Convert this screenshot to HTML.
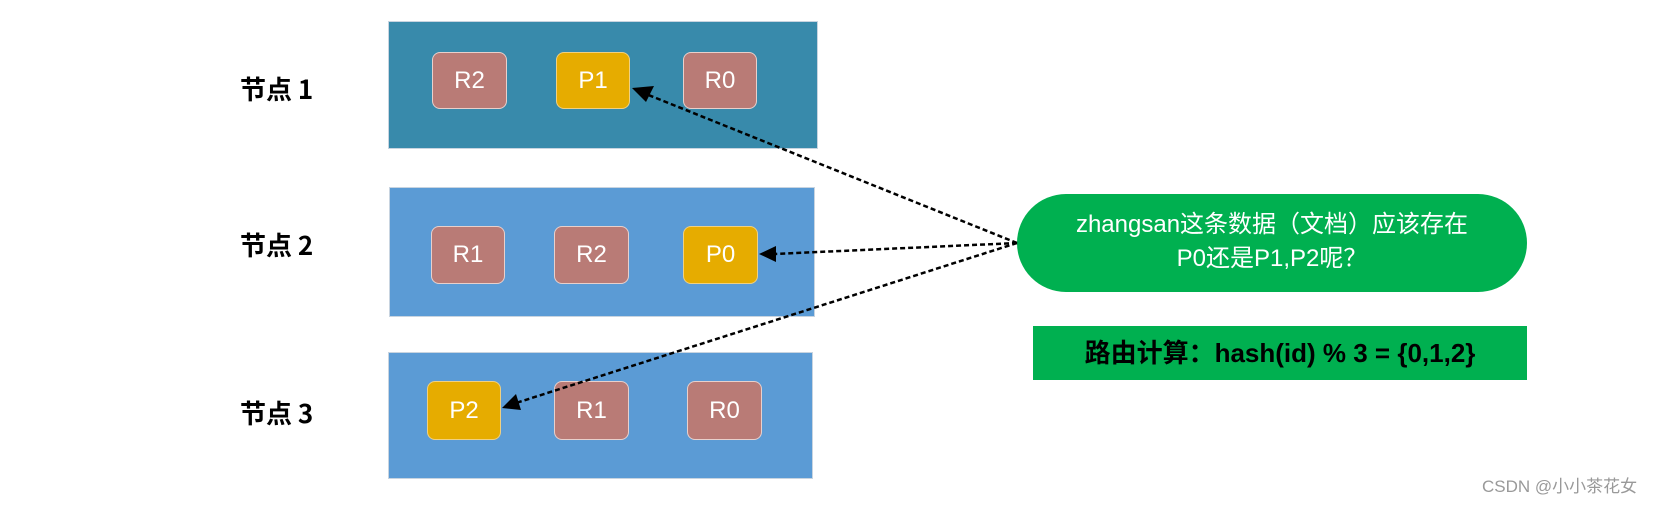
<!DOCTYPE html>
<html><head><meta charset="utf-8"><style>
body{margin:0;width:1669px;height:505px;background:#fff;position:relative;overflow:hidden;font-family:"Liberation Sans","Noto Sans CJK SC",sans-serif}
.box{position:absolute;border:1px solid #c8d4e0;box-sizing:border-box}
.n{position:absolute;border:1px solid #e8d0cc;border-radius:8px;box-sizing:border-box;color:#fff;font-size:24px;display:flex;align-items:center;justify-content:center;background:#b97b76}
.p{background:#e6ac00;border-color:#f0d080}
.lbl{position:absolute;font-weight:bold;font-size:26px;color:#000;font-family:"Noto Sans CJK SC",sans-serif}
</style></head><body>
<div class="box" style="left:388px;top:21px;width:430px;height:128px;background:#388aab"></div>
<div class="box" style="left:389px;top:187px;width:426px;height:130px;background:#5b9bd5"></div>
<div class="box" style="left:388px;top:352px;width:425px;height:127px;background:#5b9bd5"></div>
<div class="n" style="left:432px;top:52px;width:75px;height:57px">R2</div>
<div class="n p" style="left:556px;top:52px;width:74px;height:57px">P1</div>
<div class="n" style="left:683px;top:52px;width:74px;height:57px">R0</div>
<div class="n" style="left:431px;top:226px;width:74px;height:58px">R1</div>
<div class="n" style="left:554px;top:226px;width:75px;height:58px">R2</div>
<div class="n p" style="left:683px;top:226px;width:75px;height:58px">P0</div>
<div class="n p" style="left:427px;top:381px;width:74px;height:59px">P2</div>
<div class="n" style="left:554px;top:381px;width:75px;height:59px">R1</div>
<div class="n" style="left:687px;top:381px;width:75px;height:59px">R0</div>
<div class="lbl" style="left:240px;top:70px">节点 1</div>
<div class="lbl" style="left:240px;top:226px">节点 2</div>
<div class="lbl" style="left:240px;top:394px">节点 3</div>
<div style="position:absolute;left:1017px;top:194px;width:510px;height:98px;border-radius:49px;background:#00b050;color:#fff;font-size:24px;text-align:center;line-height:34px;padding-top:14px;box-sizing:border-box">zhangsan这条数据（文档）应该存在<br>P0还是P1,P2呢？</div>
<div style="position:absolute;left:1033px;top:326px;width:494px;height:54px;background:#00b050;color:#000;font-weight:bold;font-size:26px;line-height:54px;text-align:center">路由计算：hash(id) % 3 = {0,1,2}</div>
<svg style="position:absolute;left:0;top:0" width="1669" height="505">
<defs><marker id="a" markerWidth="10" markerHeight="10" refX="9" refY="5" orient="auto" markerUnits="userSpaceOnUse"><path d="M0,0 L10,5 L0,10z" fill="#000" transform="scale(1.6) translate(-4,-2)"/></marker></defs>
<g stroke="#000" stroke-width="2.5" stroke-dasharray="5,3" fill="none">
<line x1="1017" y1="243" x2="646" y2="94"/>
<line x1="1017" y1="243" x2="774" y2="254"/>
<line x1="1017" y1="243" x2="516" y2="403"/>
</g>
<polygon points="632,88 654,86 646,102" fill="#000"/>
<polygon points="759,254 776,246 776,262" fill="#000"/>
<polygon points="502,408 516,394 521,410" fill="#000"/>
</svg>
<div style="position:absolute;left:1482px;top:472px;font-size:17px;color:#999">CSDN @小小茶花女</div>
</body></html>
